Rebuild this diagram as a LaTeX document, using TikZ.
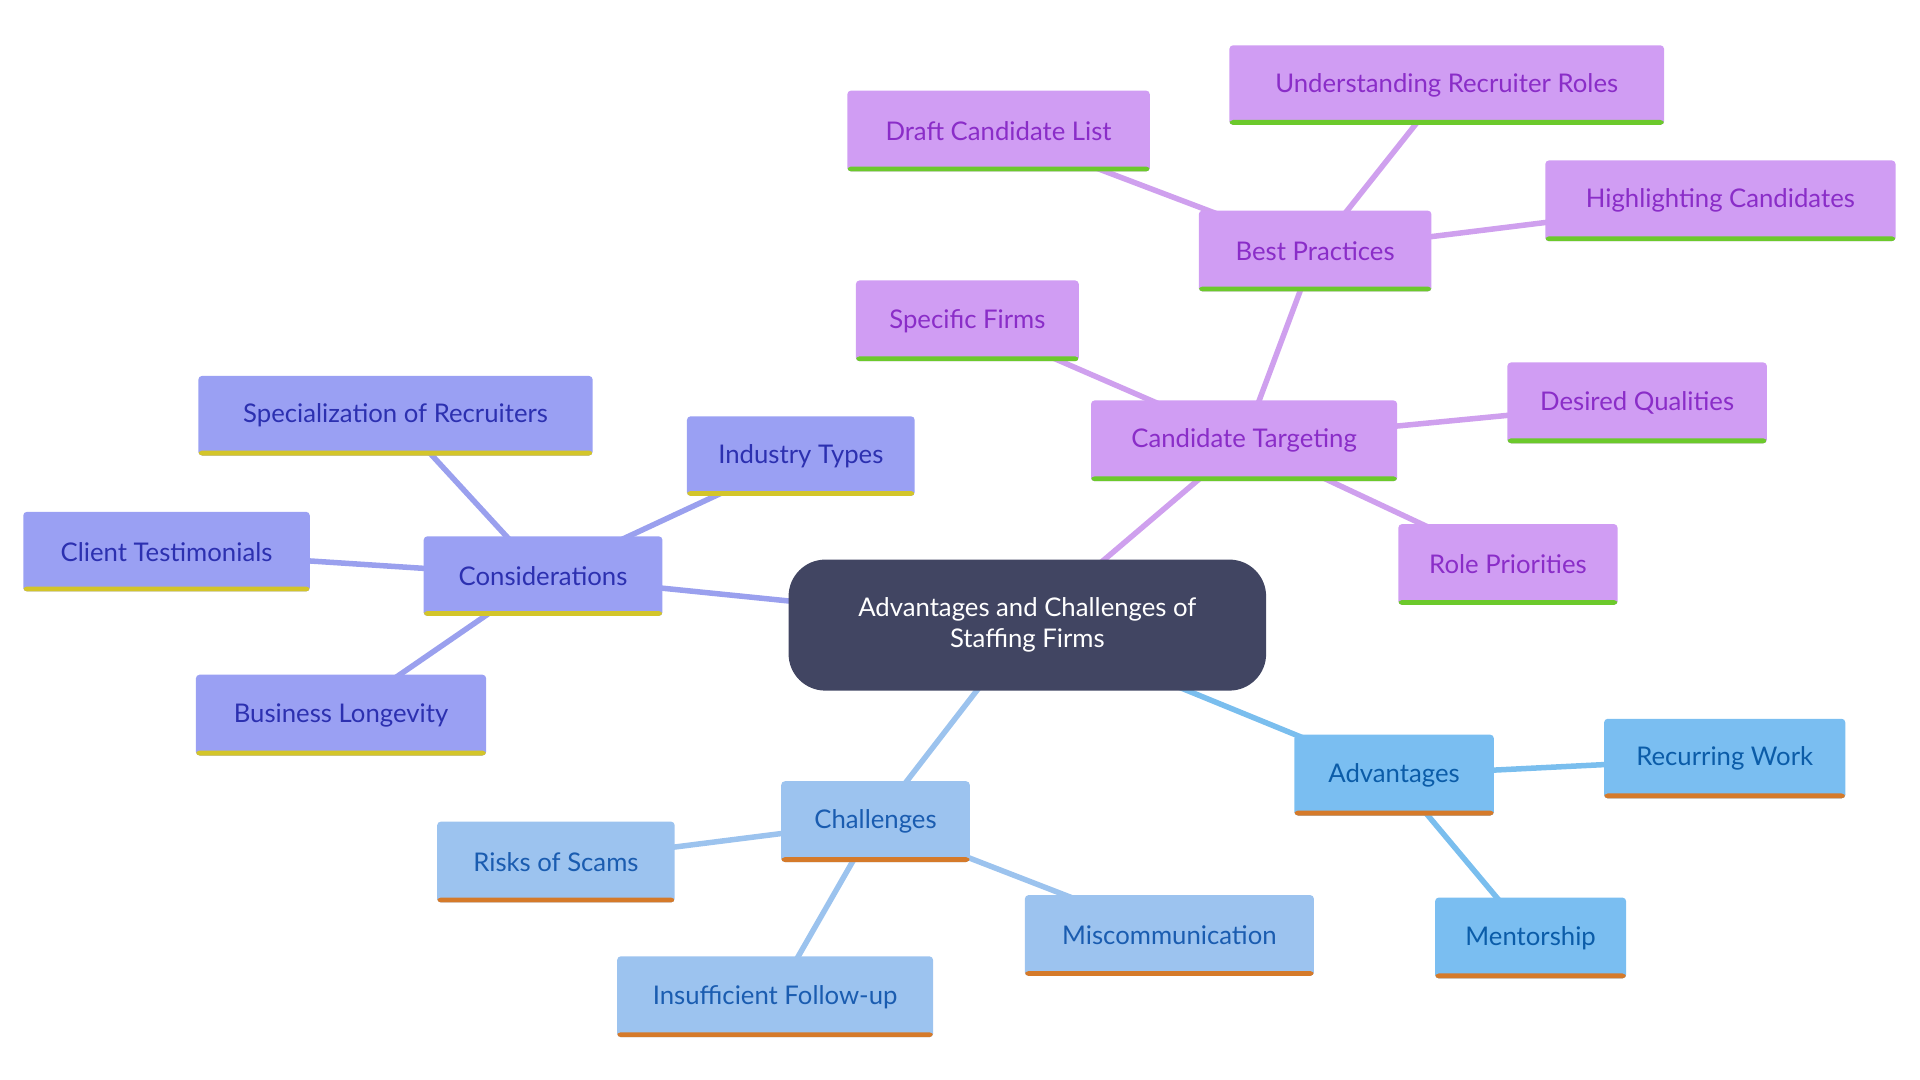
\documentclass[tikz,border=0pt]{standalone}
\usepackage{fontspec}
\setmainfont{Lato}
\usetikzlibrary{backgrounds}
\definecolor{pF}{HTML}{D09DF3}\definecolor{pT}{HTML}{8A2DC8}\definecolor{pB}{HTML}{6CC92C}\definecolor{pE}{HTML}{CFA0EE}
\definecolor{vF}{HTML}{9AA0F3}\definecolor{vT}{HTML}{2C30B0}\definecolor{vB}{HTML}{D3C52A}\definecolor{vE}{HTML}{9AA0EE}
\definecolor{cF}{HTML}{9CC3EF}\definecolor{cT}{HTML}{1A5CB0}\definecolor{cB}{HTML}{D57A2A}\definecolor{cE}{HTML}{9CC3EE}
\definecolor{aF}{HTML}{7ABEF1}\definecolor{aT}{HTML}{0B5CA8}\definecolor{aE}{HTML}{7ABEEE}
\definecolor{mid}{HTML}{414562}
\tikzset{
 box/.style n args={3}{rectangle, rounded corners=3pt, inner sep=0pt, fill=#1, text=#2,
   font=\fontsize{21}{25}\selectfont,
   path picture={\fill[#3] ([yshift=4pt]path picture bounding box.south west) rectangle (path picture bounding box.south east);}},
 P/.style={box={pF}{pT}{pB}}, V/.style={box={vF}{vT}{vB}},
 C/.style={box={cF}{cT}{cB}}, A/.style={box={aF}{aT}{cB}},
 edge/.style={line width=4.5pt, draw=#1},
}
\newcommand\mnode[7]{\node[#6, minimum width={(#4-#2)*1pt}, minimum height={(#5-#3)*1pt}] (#1) at ({(#2+#4)/2},{(#3+#5)/2}) {#7};}
\begin{document}
\begin{tikzpicture}[x=1pt,y=-1pt]
\useasboundingbox (0,0) rectangle (1568,882);
\node[rectangle, rounded corners=30pt, fill=mid, text=white, align=center, inner sep=0pt,
  minimum width=390pt, minimum height=107pt, font=\fontsize{21}{25}\selectfont] (center) at (839,510.5)
  {Advantages and Challenges of\\Staffing Firms};
\mnode{cons}{346}{438}{541}{503}{V}{Considerations}
\mnode{spec}{162}{307}{484}{372}{V}{Specialization of Recruiters}
\mnode{ind}{561}{340}{747}{405}{V}{Industry Types}
\mnode{cli}{19}{418}{253}{483}{V}{Client Testimonials}
\mnode{bus}{160}{551}{397}{617}{V}{Business Longevity}
\mnode{cand}{891}{327}{1141}{393}{P}{Candidate Targeting}
\mnode{best}{979}{172}{1169}{238}{P}{Best Practices}
\mnode{draft}{692}{74}{939}{140}{P}{Draft Candidate List}
\mnode{under}{1004}{37}{1359}{102}{P}{Understanding Recruiter Roles}
\mnode{high}{1262}{131}{1548}{197}{P}{Highlighting Candidates}
\mnode{firms}{699}{229}{881}{295}{P}{Specific Firms}
\mnode{des}{1231}{296}{1443}{362}{P}{Desired Qualities}
\mnode{role}{1142}{428}{1321}{494}{P}{Role Priorities}
\mnode{chal}{638}{638}{792}{704}{C}{Challenges}
\mnode{risk}{357}{671}{551}{737}{C}{Risks of Scams}
\mnode{insuf}{504}{781}{762}{847}{C}{Insufficient Follow-up}
\mnode{misc}{837}{731}{1073}{797}{C}{Miscommunication}
\mnode{adv}{1057}{600}{1220}{666}{A}{Advantages}
\mnode{rec}{1310}{587}{1507}{652}{A}{Recurring Work}
\mnode{ment}{1172}{733}{1328}{799}{A}{Mentorship}
\begin{scope}[on background layer]
\draw[edge=vE] (center.center) -- (cons.center);
\foreach \n in {spec,ind,cli,bus} \draw[edge=vE] (cons.center) -- (\n.center);
\draw[edge=pE] (center.center) -- (cand.center);
\foreach \n in {best,firms,des,role} \draw[edge=pE] (cand.center) -- (\n.center);
\foreach \n in {draft,under,high} \draw[edge=pE] (best.center) -- (\n.center);
\draw[edge=cE] (center.center) -- (chal.center);
\foreach \n in {risk,insuf,misc} \draw[edge=cE] (chal.center) -- (\n.center);
\draw[edge=aE] (center.center) -- (adv.center);
\foreach \n in {rec,ment} \draw[edge=aE] (adv.center) -- (\n.center);
\end{scope}
\end{tikzpicture}
\end{document}
